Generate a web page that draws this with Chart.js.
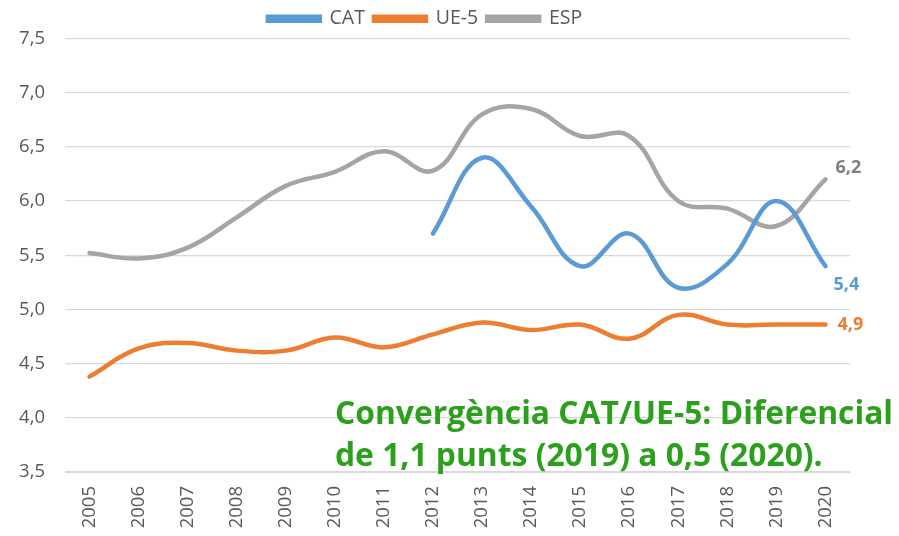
<!DOCTYPE html>
<html>
<head>
<meta charset="utf-8">
<script src="https://cdn.jsdelivr.net/npm/chart.js@4/dist/chart.umd.min.js"></script>
<style>
  html, body { margin: 0; padding: 0; background: #fff; }
  #wrap { width: 899px; height: 536px; }
</style>
</head>
<body>
<div id="wrap"><canvas id="chart"></canvas></div>
<script>
var years = ['2005','2006','2007','2008','2009','2010','2011','2012','2013','2014','2015','2016','2017','2018','2019','2020'];
var cat = [null, null, null, null, null, null, null, 5.7, 6.4, 5.95, 5.4, 5.7, 5.2, 5.42, 6.0, 5.4];
var ue5 = [4.38, 4.64, 4.69, 4.62, 4.62, 4.74, 4.65, 4.77, 4.88, 4.81, 4.86, 4.73, 4.95, 4.86, 4.86, 4.86];
var esp = [5.52, 5.47, 5.57, 5.85, 6.14, 6.27, 6.46, 6.28, 6.8, 6.85, 6.6, 6.6, 6.0, 5.93, 5.77, 6.2];
var yTicks = [3.5, 4.0, 4.5, 5.0, 5.5, 6.0, 6.5, 7.0, 7.5];
var endLabels = ['5,4', '4,9', '6,2'];
var labelColors = ['#5b9bd5', '#ed7d31', '#7f7f7f'];
var note = ['Convergència CAT/UE-5: Diferencial', 'de 1,1 punts (2019) a 0,5 (2020).'];

var FONT = '"Open Sans", "Noto Sans", sans-serif';

// labels at the end of each line + green note
var extras = {
    id: 'extras',
    afterDatasetsDraw: function(chart){
        var ctx = chart.ctx;
        ctx.save();
        ctx.font = 'bold 18px ' + FONT;
        ctx.textBaseline = 'middle';
        ctx.textAlign = 'left';
        var offs = [[8, 19], [12, 0], [10, -12]];
        chart.data.datasets.forEach(function(ds, i){
            var meta = chart.getDatasetMeta(i);
            var p = meta.data[meta.data.length - 1];
            ctx.fillStyle = labelColors[i];
            ctx.fillText(endLabels[i], p.x + offs[i][0], p.y + offs[i][1]);
        });
        ctx.font = 'bold 31.8px ' + FONT;
        ctx.fillStyle = '#2ca01c';
        ctx.fillText(note[0], 335, 415);
        ctx.fillText(note[1], 335, 457);
        ctx.restore();
    }
};

new Chart(document.getElementById('chart'), {
    type: 'line',
    data: {
        labels: years,
        datasets: [
            { label: 'CAT', data: cat, borderColor: '#5b9bd5', backgroundColor: '#5b9bd5' },
            { label: 'UE-5', data: ue5, borderColor: '#ed7d31', backgroundColor: '#ed7d31' },
            { label: 'ESP', data: esp, borderColor: '#a5a5a5', backgroundColor: '#a5a5a5' }
        ]
    },
    options: {
        responsive: true,
        maintainAspectRatio: false,
        animation: false,
        layout: { padding: { top: 0, right: 49, left: 0, bottom: 0 } },
        elements: {
            line: { borderWidth: 4.5, tension: 0.4, borderCapStyle: 'round', fill: false },
            point: { radius: 0, hoverRadius: 0 }
        },
        plugins: {
            legend: {
                display: true,
                position: 'top',
                labels: {
                    color: '#595959',
                    font: { family: FONT, size: 19.5 },
                    boxWidth: 52,
                    boxHeight: 4,
                    padding: 9
                }
            },
            tooltip: { enabled: false }
        },
        scales: {
            x: {
                offset: true,
                grid: { display: false },
                border: { display: true, color: '#d9d9d9' },
                ticks: {
                    color: '#595959',
                    font: { family: FONT, size: 18.5 },
                    minRotation: 90,
                    maxRotation: 90,
                    padding: 6
                },
                afterFit: function(s){ s.height = 64; }
            },
            y: {
                min: 3.5,
                max: 7.5,
                afterBuildTicks: function(s){ s.ticks = yTicks.map(function(v){ return { value: v }; }); },
                grid: { color: '#d9d9d9', lineWidth: 1.2, drawTicks: false },
                border: { display: false },
                ticks: {
                    color: '#595959',
                    font: { family: FONT, size: 18.5 },
                    padding: 20,
                    callback: function(v){ return v.toFixed(1).replace('.', ','); }
                },
                afterFit: function(s){ s.width = 65; }
            }
        }
    },
    plugins: [extras]
});
</script>
</body>
</html>
